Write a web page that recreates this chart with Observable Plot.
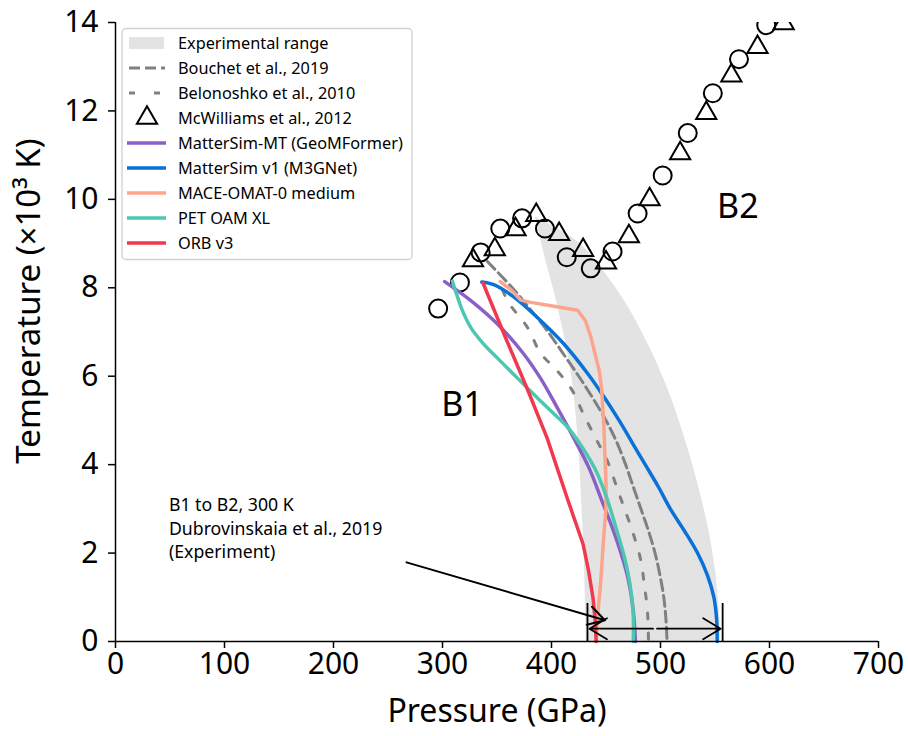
<!DOCTYPE html>
<html>
<head>
<meta charset="utf-8">
<script src="https://cdn.jsdelivr.net/npm/d3@7"></script>
<script src="https://cdn.jsdelivr.net/npm/@observablehq/plot@0.6"></script>
<style>
  html, body { margin: 0; padding: 0; background: #fff; }
  #chart { width: 908px; height: 736px; }
</style>
</head>
<body>
<div id="chart"></div>
<script>
// ---------- data (pressure GPa, temperature 10^3 K) ----------
const xTicks = [0, 100, 200, 300, 400, 500, 600, 700];
const yTicks = [0, 2, 4, 6, 8, 10, 12, 14];

// Experimental range band
const bandT     = [9.6, 9.3, 9.0, 8.5, 8.0, 7.5, 7.0, 6.5, 6.0, 5.5, 5.0, 4.5, 4.0, 3.5, 3.0, 2.5, 2.0, 1.5, 1.0, 0.5, 0];
const bandLeft  = [385, 388, 391, 396, 401.5, 406.5, 411, 415, 418.5, 421, 423, 424.5, 426, 427, 428, 429, 430, 430.5, 431, 431.5, 432];
const bandRight = [385, 408, 426, 444, 459, 472, 483, 493, 502, 510, 517, 523.5, 529.5, 535, 540, 544.5, 548, 551, 553, 554.5, 555];

const bouchetT = [8.6, 8.0, 7.5, 7.0, 6.5, 6.0, 5.5, 5.0, 4.5, 4.0, 3.5, 3.0, 2.5, 2.0, 1.5, 1.0, 0.5, 0];
const bouchetP = [341, 364, 381, 397, 411, 425, 438, 450, 460, 468, 475, 482, 489, 495, 499.5, 503, 505, 506];
const belonoshkoT = [7.95, 7.65, 7.1, 6.52, 6.13, 5.68, 5.16, 4.62, 4.1, 3.48, 3.0, 2.44, 1.83, 1.31, 0.7, 0];
const belonoshkoP = [355, 361, 378, 390, 405, 419, 429, 440, 451, 460, 467, 475, 482, 485, 488, 489];

const mcwTriangles = [[328,8.62],[348,8.87],[367,9.32],[386,9.64],[407,9.21],[429,8.85],[450,8.57],[471,9.16],[490,10.0],[518,11.04],[542,11.95],[565,12.8],[589,13.44],[613,13.98]];
const mcwCircles = [[296,7.53],[316,8.12],[335,8.8],[353,9.34],[373,9.57],[394,9.34],[414,8.69],[436,8.44],[456,8.82],[479,9.68],[502,10.54],[525,11.5],[548,12.4],[572,13.17],[597,13.94]];

const matterSimMT = [[302,8.14],[326,7.71],[350,7.19],[374,6.52],[390,5.95],[405,5.3],[420,4.62],[434,3.95],[446,3.2],[460,2.28],[470,1.45],[475,0.7],[477,0]];
const matterSimV1 = [[336,8.13],[347,8.07],[365,7.8],[387,7.33],[411,6.74],[435,6.0],[449,5.5],[462,5.0],[474,4.5],[486,4.0],[498,3.5],[509,3.0],[522,2.5],[534,2.0],[543,1.5],[549,1.0],[551.5,0.5],[552,0]];
const maceOmat = [[353,8.14],[363,7.95],[372,7.72],[381,7.67],[405,7.57],[424,7.49],[431,7.26],[436,6.9],[440,6.5],[444,6.1],[446,5.7],[448,4.9],[449,4.2],[450,3.6],[450,3.0],[448,2.4],[445,1.3],[442,0.5],[441,0]];
const petOamXL = [[309,8.15],[313,7.85],[318,7.5],[326,7.1],[337,6.75],[350,6.42],[365,6.05],[380,5.68],[400,5.2],[415,4.84],[428,4.4],[440,3.9],[450,3.3],[460,2.5],[467,1.9],[472,1.3],[475,0.6],[475,0]];
const orbV3 = [[337,8.12],[357,6.92],[378,5.7],[396,4.6],[415,3.2],[429,2.2],[434,1.6],[438,1.0],[440,0.5],[441,0]];

// annotations
const regionNames = ["B1", "B2"];
const regionP = [318, 571];
const regionT = [5.34, 9.82];
const noteText = "B1 to B2, 300 K\nDubrovinskaia et al., 2019\n(Experiment)";
const noteP = 49, noteT = 2.58;
const pointer = {p1: 267, t1: 1.79, p2: 449, t2: 0.48};
const expRange = [433, 557];   // Dubrovinskaia et al. 2019
const expRangeT = 0.29, expCapT = 0.86;

const seriesNames = ["MatterSim-MT (GeoMFormer)", "MatterSim v1 (M3GNet)", "MACE-OMAT-0 medium", "PET OAM XL", "ORB v3"];
const seriesColors = ["#8a60c8", "#0a72d6", "#fda58b", "#4cc7b0", "#f0394f"];

// ---------- build ----------
const font = "'Noto Sans', 'Open Sans', sans-serif";
const P = d => d[0], T = d => d[1];
const band = bandT.map((t, i) => ({t, l: bandLeft[i], r: bandRight[i]}));
const bouchet = bouchetT.map((t, i) => [bouchetP[i], t]);
const belonoshko = belonoshkoT.map((t, i) => [belonoshkoP[i], t]);
const models = [matterSimMT, matterSimV1, maceOmat, petOamXL, orbV3];
const curves = ["catmull-rom", "catmull-rom", "linear", "catmull-rom", "linear"];
const regions = regionNames.map((n, i) => ({n, p: regionP[i], t: regionT[i]}));
const mid = (expRange[0] + expRange[1]) / 2;

const chart = Plot.plot({
  width: 908, height: 736,
  marginLeft: 115, marginRight: 30, marginTop: 22, marginBottom: 95,
  style: {fontFamily: font, background: "#fff", color: "#000", fontSize: "30px"},
  x: {domain: [0, 700]},
  y: {domain: [0, 14]},
  marks: [
    Plot.areaX(band, {y: "t", x1: "l", x2: "r", fill: "#e3e3e3", curve: "catmull-rom"}),
    Plot.dot(mcwCircles, {x: P, y: T, r: 9, stroke: "#000", strokeWidth: 2, fill: "none", clip: true}),
    Plot.dot(mcwTriangles, {x: P, y: T, r: 7.5, symbol: "triangle", stroke: "#000", strokeWidth: 2, fill: "none", clip: true}),
    Plot.line(bouchet, {x: P, y: T, stroke: "#808080", strokeWidth: 3, strokeDasharray: "11,5", curve: "catmull-rom"}),
    Plot.line(belonoshko, {x: P, y: T, stroke: "#808080", strokeWidth: 3, strokeDasharray: "6,14", curve: "catmull-rom"}),
    ...models.map((m, i) => Plot.line(m, {x: P, y: T, stroke: seriesColors[i], strokeWidth: 3.5, curve: curves[i]})),
    // experimental 300 K range with caps
    Plot.ruleX(expRange, {x: d => d, y1: 0, y2: expCapT, stroke: "#000", strokeWidth: 1.8}),
    Plot.arrow(expRange, {x1: mid, y1: expRangeT, x2: d => d, y2: expRangeT, stroke: "#000", strokeWidth: 1.8, headLength: 17, headAngle: 62, inset: 2}),
    Plot.arrow([pointer], {x1: "p1", y1: "t1", x2: "p2", y2: "t2", stroke: "#000", strokeWidth: 2, headLength: 14, headAngle: 60}),
    Plot.text([noteText], {x: noteP, y: noteT, text: d => d, textAnchor: "start", lineAnchor: "middle", fontSize: 17.7, lineHeight: 1.33, fill: "#000"}),
    Plot.text(regions, {x: "p", y: "t", text: "n", fontSize: 34, fill: "#000"}),
    // spines & axes
    Plot.ruleX([0], {stroke: "#000", strokeWidth: 1.5}),
    Plot.ruleY([0], {stroke: "#000", strokeWidth: 1.5}),
    Plot.axisX({ticks: xTicks, tickSize: 7, tickPadding: 4, fontSize: 30, label: null, stroke: "#000", strokeWidth: 1.5}),
    Plot.axisY({ticks: yTicks, tickSize: 7, tickPadding: 10, fontSize: 30, label: null, stroke: "#000", strokeWidth: 1.5}),
    Plot.text(["Pressure (GPa)"], {frameAnchor: "bottom", dy: 80, text: d => d, fontSize: 32, fill: "#000"}),
    Plot.text(["Temperature (×10³ K)"], {frameAnchor: "left", textAnchor: "middle", dx: -86, dy: -31, rotate: -90, text: d => d, fontSize: 33, fill: "#000"})
  ]
});
document.getElementById("chart").appendChild(chart);

// ---------- legend (inside the axes, upper left) ----------
const svg = d3.select(chart);
const lg = svg.append("g").attr("font-family", font).attr("font-size", 16.3).attr("text-anchor", "start");
lg.append("rect").attr("x", 122).attr("y", 28.5).attr("width", 290).attr("height", 231)
  .attr("rx", 4).attr("fill", "#fff").attr("fill-opacity", 0.85).attr("stroke", "#d0d0d0").attr("stroke-width", 1.3);
const legendItems = [
  {label: "Experimental range", kind: "band"},
  {label: "Bouchet et al., 2019", kind: "dash", dash: "11,5"},
  {label: "Belonoshko et al., 2010", kind: "dash", dash: "6,19"},
  {label: "McWilliams et al., 2012", kind: "tri"},
  ...seriesNames.map((n, i) => ({label: n, kind: "line", color: seriesColors[i]}))
];
legendItems.forEach((it, i) => {
  const y = 43 + i * 25;
  if (it.kind === "band") lg.append("rect").attr("x", 129).attr("y", y - 6).attr("width", 35).attr("height", 12).attr("fill", "#e3e3e3");
  else if (it.kind === "dash") lg.append("line").attr("x1", 129).attr("x2", 165).attr("y1", y).attr("y2", y).attr("stroke", "#808080").attr("stroke-width", 3).attr("stroke-dasharray", it.dash);
  else if (it.kind === "tri") lg.append("path").attr("d", d3.symbol(d3.symbolTriangle, Math.PI * 7.5 * 7.5)()).attr("transform", `translate(147,${y})`).attr("fill", "none").attr("stroke", "#000").attr("stroke-width", 2);
  else lg.append("line").attr("x1", 127).attr("x2", 166).attr("y1", y).attr("y2", y).attr("stroke", it.color).attr("stroke-width", 3.5);
  lg.append("text").attr("x", 178).attr("y", y).attr("dy", "0.35em").attr("fill", "#000").text(it.label);
});
</script>
</body>
</html>
